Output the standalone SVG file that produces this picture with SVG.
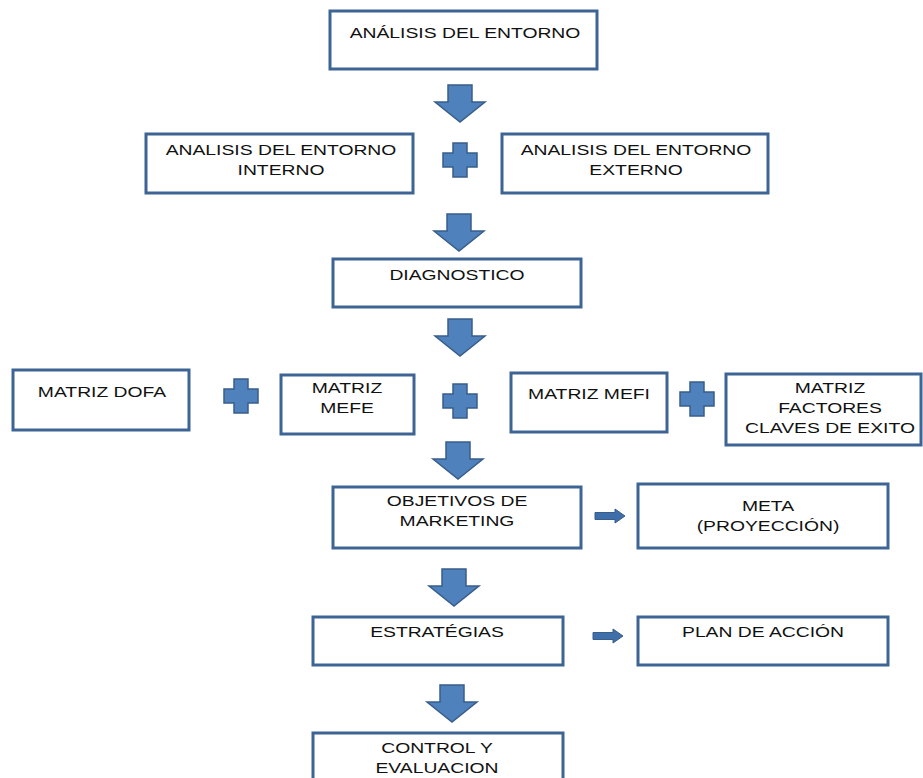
<svg xmlns="http://www.w3.org/2000/svg" width="923" height="778" viewBox="0 0 923 778">
<defs>
<style>
.box{fill:#fff;stroke:#3D6494;stroke-width:3}
.t{font-family:"Liberation Sans",Arial,sans-serif;font-size:14px;fill:#111;text-anchor:middle}
.arr{fill:#4F81BD;stroke:#385D8A;stroke-width:1.5}
.sarr{fill:#3F6FA8;stroke:#385D8A;stroke-width:1}
</style>
<path id="down" d="M-12,0 H12 V17 H25 L0,37 L-25,17 H-12 Z"/>
<path id="plus" d="M-7,-17 H7 V-7 H17 V7 H7 V17 H-7 V7 H-17 V-7 H-7 Z"/>
<path id="right" d="M0,-3.5 H20 V-7 L30,0 L20,7 V3.5 H0 Z"/>
</defs>
<rect width="923" height="778" fill="#fff"/>
<g id="connectors">
<use href="#down" class="arr" x="460" y="85"/>
<use href="#plus" class="arr" x="460" y="160"/>
<use href="#down" class="arr" x="459" y="214"/>
<use href="#down" class="arr" x="460" y="319"/>
<use href="#plus" class="arr" x="241" y="396"/>
<use href="#plus" class="arr" x="460" y="401"/>
<use href="#plus" class="arr" x="697" y="399"/>
<use href="#down" class="arr" x="458" y="442"/>
<use href="#right" class="sarr" x="595" y="516"/>
<use href="#down" class="arr" x="454" y="569"/>
<use href="#right" class="sarr" x="593" y="636"/>
<use href="#down" class="arr" x="452" y="685"/>
</g>
<g id="n1"><rect class="box" x="330" y="11" width="267" height="58"/>
<text class="t" transform="translate(465,38) scale(1.38,1)">ANÁLISIS DEL ENTORNO</text></g>
<g id="n2"><rect class="box" x="146" y="134" width="267" height="59"/>
<text class="t" transform="translate(281,155) scale(1.38,1)">ANALISIS DEL ENTORNO</text>
<text class="t" transform="translate(281,175) scale(1.38,1)">INTERNO</text></g>
<g id="n3"><rect class="box" x="502" y="134" width="266" height="59"/>
<text class="t" transform="translate(636,155) scale(1.38,1)">ANALISIS DEL ENTORNO</text>
<text class="t" transform="translate(636,175) scale(1.38,1)">EXTERNO</text></g>
<g id="n4"><rect class="box" x="333" y="259" width="248" height="48"/>
<text class="t" transform="translate(457,280) scale(1.38,1)">DIAGNOSTICO</text></g>
<g id="n5"><rect class="box" x="13" y="370" width="176" height="60"/>
<text class="t" transform="translate(102,397) scale(1.38,1)">MATRIZ DOFA</text></g>
<g id="n6"><rect class="box" x="281" y="375" width="133" height="59"/>
<text class="t" transform="translate(347,393) scale(1.38,1)">MATRIZ</text>
<text class="t" transform="translate(347,413) scale(1.38,1)">MEFE</text></g>
<g id="n7"><rect class="box" x="511" y="373" width="156" height="59"/>
<text class="t" transform="translate(589,399) scale(1.38,1)">MATRIZ MEFI</text></g>
<g id="n8"><rect class="box" x="726" y="374" width="195" height="71"/>
<text class="t" transform="translate(830,393) scale(1.38,1)">MATRIZ</text>
<text class="t" transform="translate(830,413) scale(1.38,1)">FACTORES</text>
<text class="t" transform="translate(830,433) scale(1.38,1)">CLAVES DE EXITO</text></g>
<g id="n9"><rect class="box" x="333" y="487" width="248" height="61"/>
<text class="t" transform="translate(457,506) scale(1.38,1)">OBJETIVOS DE</text>
<text class="t" transform="translate(457,526) scale(1.38,1)">MARKETING</text></g>
<g id="n10"><rect class="box" x="638" y="484" width="250" height="64"/>
<text class="t" transform="translate(768,511) scale(1.38,1)">META</text>
<text class="t" transform="translate(768,531) scale(1.38,1)">(PROYECCIÓN)</text></g>
<g id="n11"><rect class="box" x="313" y="617" width="250" height="48"/>
<text class="t" transform="translate(437,637) scale(1.38,1)">ESTRATÉGIAS</text></g>
<g id="n12"><rect class="box" x="638" y="617" width="250" height="48"/>
<text class="t" transform="translate(763,637) scale(1.38,1)">PLAN DE ACCIÓN</text></g>
<g id="n13"><rect class="box" x="313" y="733" width="250" height="60"/>
<text class="t" transform="translate(437,753) scale(1.38,1)">CONTROL Y</text>
<text class="t" transform="translate(437,773) scale(1.38,1)">EVALUACION</text></g>
</svg>
